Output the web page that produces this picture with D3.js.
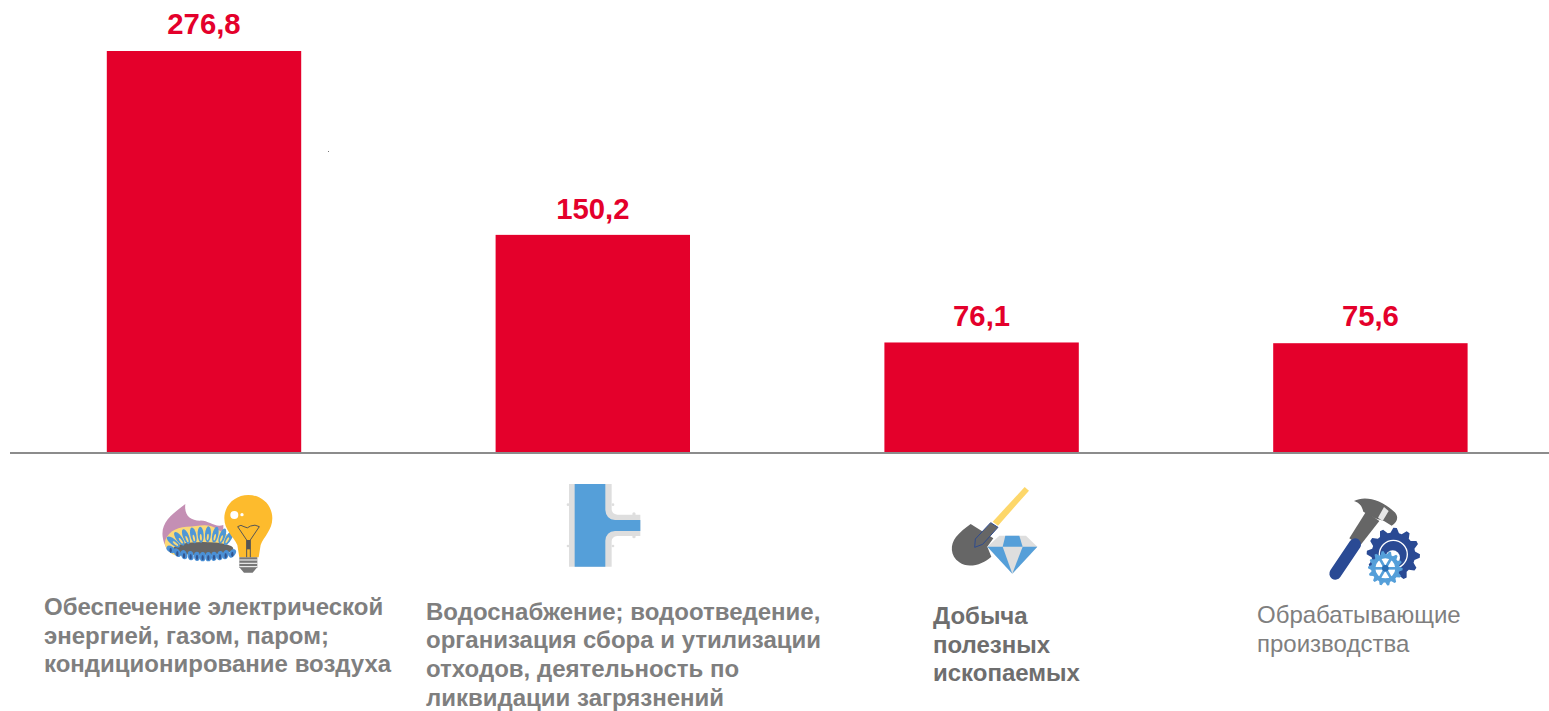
<!DOCTYPE html>
<html>
<head>
<meta charset="utf-8">
<script src="https://cdnjs.cloudflare.com/ajax/libs/d3/7.8.5/d3.min.js"></script>
<style>
  html, body { margin: 0; padding: 0; background: #fff; }
  svg { display: block; font-family: "Liberation Sans", Arial, sans-serif; }
</style>
</head>
<body>
<svg class="chart" width="1549" height="711"></svg>
<script>
var categories = ["energy", "water", "mining", "manufacturing"];
var values = [276.8, 150.2, 76.1, 75.6];
var valueLabels = ["276,8", "150,2", "76,1", "75,6"];
var labelLines = [
  ["Обеспечение электрической", "энергией, газом, паром;", "кондиционирование воздуха"],
  ["Водоснабжение; водоотведение,", "организация сбора и утилизации", "отходов, деятельность по", "ликвидации загрязнений"],
  ["Добыча", "полезных", "ископаемых"],
  ["Обрабатывающие", "производства"]
];

var RED = "#e4002b", GREY = "#7f7f7f";
var vis = d3.select(".chart");

var xScale = d3.scaleBand().domain(categories).range([9.6, 1564.8]).paddingInner(0.5).paddingOuter(0.25),
    yScale = d3.scaleLinear().domain([0, 276.8]).range([453, 51]);

vis.selectAll("rect.bar").data(values).enter().append("rect")
    .attr("class", "bar")
    .attr("x", function(d, i) { return xScale(categories[i]); })
    .attr("y", function(d) { return yScale(d); })
    .attr("width", xScale.bandwidth())
    .attr("height", function(d) { return yScale(0) - yScale(d); })
    .attr("fill", RED);

var labelGap = [17.5, 16, 16.5, 17.5];
vis.selectAll("text.value").data(values).enter().append("text")
    .attr("class", "value")
    .attr("x", function(d, i) { return xScale(categories[i]) + xScale.bandwidth() / 2; })
    .attr("y", function(d, i) { return yScale(d) - labelGap[i]; })
    .attr("text-anchor", "middle")
    .attr("font-size", 29.3)
    .attr("font-weight", "bold")
    .attr("fill", RED)
    .text(function(d, i) { return valueLabels[i]; });

// baseline
vis.append("line").attr("x1", 10).attr("x2", 1549).attr("y1", 453).attr("y2", 453)
    .attr("stroke", "#8c8c8c").attr("stroke-width", 2);

// stray speck from the original
vis.append("rect").attr("x", 328).attr("y", 151).attr("width", 1).attr("height", 1).attr("fill", "#777");

// category captions
var labelStyle = [
  {x: 44, y: 615, gap: 28.6, weight: "bold", fill: GREY},
  {x: 426, y: 619.5, gap: 28.8, weight: "bold", fill: GREY},
  {x: 933, y: 624, gap: 28.7, weight: "bold", fill: "#6e6e6e"},
  {x: 1257, y: 623, gap: 29, weight: "normal", fill: GREY}
];
labelLines.forEach(function(lines, i) {
  var s = labelStyle[i];
  vis.append("text").attr("font-size", 24).attr("font-weight", s.weight).attr("fill", s.fill)
    .selectAll("tspan").data(lines).enter().append("tspan")
    .attr("x", s.x)
    .attr("y", function(d, j) { return s.y + j * s.gap; })
    .text(function(d) { return d; });
});

// icons, drawn at 3x in the space of a crop and scaled down
function icon(x, y) {
  return vis.append("g").attr("transform", "translate(" + x + "," + y + ") scale(0.3333)");
}
function gear(g, cx, cy, r, teeth, fill) {
  var pts = [];
  for (var i = 0; i < teeth * 4; i++) {
    var a = i / (teeth * 4) * 2 * Math.PI;
    var rr = (i % 4 < 2) ? r : r * 0.82;
    pts.push([cx + rr * Math.cos(a), cy + rr * Math.sin(a)]);
  }
  g.append("polygon").attr("points", pts.join(" ")).attr("fill", fill);
}

// flame and bulb
var i1 = icon(140, 480);
i1.append("path").attr("d", "M136,72 C100,100 62,125 68,170 C72,200 85,215 110,225 L250,170 L250,135 C225,145 205,120 180,122 C150,122 132,105 136,72Z").attr("fill", "#c48fb4");
i1.append("path").attr("d", "M74,190 C78,160 105,142 140,140 C175,140 205,125 235,150 L275,170 L250,215 L110,228 C90,222 76,208 74,190Z").attr("fill", "#fbd977");
i1.append("ellipse").attr("cx", 190).attr("cy", 206).attr("rx", 90).attr("ry", 20).attr("fill", "#666");
[[100,186,-52],[118,176,-36],[138,170,-22],[160,166,-12],[182,164,-4],[204,163,4],[226,164,12],[247,168,20],[266,174,30]].forEach(function(f) {
  i1.append("ellipse").attr("cx", f[0]).attr("cy", f[1]).attr("rx", 9).attr("ry", 24)
    .attr("transform", "rotate(" + f[2] + " " + f[0] + " " + f[1] + ")").attr("fill", "#4f97d6");
  i1.append("ellipse").attr("cx", f[0]).attr("cy", f[1] + 8).attr("rx", 3).attr("ry", 10)
    .attr("transform", "rotate(" + f[2] + " " + f[0] + " " + f[1] + ")").attr("fill", "#fbd977");
});
[[92,208,-55],[112,218,-35],[132,224,-20],[152,227,-10],[171,229,-4],[188,230,0],[205,230,0],[222,229,5],[240,227,10],[257,224,20],[277,220,35]].forEach(function(f) {
  i1.append("ellipse").attr("cx", f[0]).attr("cy", f[1]).attr("rx", 9).attr("ry", 14)
    .attr("transform", "rotate(" + f[2] + " " + f[0] + " " + f[1] + ")").attr("fill", "#4a90d6");
  i1.append("ellipse").attr("cx", f[0]).attr("cy", f[1] + 3).attr("rx", 3.5).attr("ry", 8)
    .attr("fill", "#33558f");
});
i1.append("path").attr("d", "M325,45 C365,45 397,75 397,115 C397,150 372,170 362,195 L356,232 L298,232 L292,195 C280,170 253,150 253,115 C253,75 285,45 325,45Z").attr("fill", "#fdbb2d");
i1.append("circle").attr("cx", 283).attr("cy", 105).attr("r", 12).attr("fill", "#fff");
i1.append("circle").attr("cx", 306).attr("cy", 104).attr("r", 5).attr("fill", "#fff");
i1.append("path").attr("d", "M293,140 Q303,132 312,140 Q322,148 332,138 Q345,132 358,140 L331,180 L331,232 M293,140 L320,180 L320,232").attr("fill", "none").attr("stroke", "#555").attr("stroke-width", 3);
i1.append("rect").attr("x", 320).attr("y", 180).attr("width", 11).attr("height", 28).attr("fill", "#555");
i1.append("path").attr("d", "M298,232 L352,232 L352,262 L338,278 L312,278 L298,262Z").attr("fill", "#777");
[240, 250, 260].forEach(function(y) {
  i1.append("line").attr("x1", 298).attr("x2", 352).attr("y1", y).attr("y2", y).attr("stroke", "#fff").attr("stroke-width", 3);
});

// pipe tee
var i2 = icon(540, 470);
i2.append("path").attr("d", "M87,42 L215,42 L215,118 Q215,132 232,134 L301,134 L301,198 L232,198 Q215,200 215,214 L215,290 L87,290Z").attr("fill", "#dedede");
i2.append("path").attr("d", "M104,42 L196,42 L196,120 Q198,148 225,150 L301,150 L301,183 L225,183 Q198,185 196,212 L196,290 L104,290Z").attr("fill", "#559fd9");
[[80,104],[215,104],[80,228],[215,228]].forEach(function(p) {
  i2.append("rect").attr("x", p[0]).attr("y", p[1] - 4).attr("width", 8).attr("height", 8).attr("rx", 4).attr("fill", "#dedede");
});
[[282,132],[282,200]].forEach(function(p) {
  i2.append("rect").attr("x", p[0] - 5).attr("y", p[1] - 5).attr("width", 10).attr("height", 10).attr("rx", 5).attr("fill", "#dedede");
});

// shovel and diamond
var i3 = icon(930, 475);
i3.append("path").attr("d", "M284,36 L297,47 L204,152 L188,140Z").attr("fill", "#fdd76a");
i3.append("path").attr("d", "M122,147 L190,190 L172,215 L184,245 C160,268 115,282 88,262 C60,243 60,208 78,186 C90,171 106,158 122,147Z").attr("fill", "#666");
i3.append("path").attr("d", "M182,143 L204,157 L158,208 L134,217 L136,192Z").attr("fill", "#666").attr("stroke", "#2d4a8f").attr("stroke-width", 3);
i3.append("path").attr("d", "M172,215 L208,182 L288,182 L322,215 L247,296Z").attr("fill", "#dedede");
i3.append("path").attr("d", "M226,182 L268,182 L278,215 L218,215Z").attr("fill", "#559fd9");
i3.append("path").attr("d", "M172,215 L218,215 L247,296Z").attr("fill", "#559fd9");
i3.append("path").attr("d", "M278,215 L322,215 L247,296Z").attr("fill", "#559fd9");

// hammer and gears
var i4 = icon(1310, 485);
i4.append("path").attr("d", "M168,80 L208,108 L150,182 L118,160Z").attr("fill", "#666");
i4.append("path").attr("d", "M132,48 C165,30 215,45 250,78 C268,92 264,112 245,122 L222,108 L195,100 L160,80 C155,62 150,55 132,48Z").attr("fill", "#666");
i4.append("path").attr("d", "M222,66 L236,78 L218,108 L204,98Z").attr("fill", "#e6e6e6");
i4.append("line").attr("x1", 135).attr("y1", 178).attr("x2", 76).attr("y2", 266)
    .attr("stroke", "#2a4a94").attr("stroke-width", 36).attr("stroke-linecap", "round");
gear(i4, 250, 208, 80, 12, "#2a4a94");
i4.append("circle").attr("cx", 250).attr("cy", 208).attr("r", 42).attr("fill", "none").attr("stroke", "#fff").attr("stroke-width", 4);
i4.append("circle").attr("cx", 248).attr("cy", 218).attr("r", 22).attr("fill", "#fff");
gear(i4, 226, 250, 52, 14, "#559fd9");
i4.append("circle").attr("cx", 226).attr("cy", 250).attr("r", 32).attr("fill", "#fff");
[0, 60, 120].forEach(function(a) {
  i4.append("rect").attr("x", 192).attr("y", 246).attr("width", 68).attr("height", 8).attr("fill", "#559fd9")
    .attr("transform", "rotate(" + a + " 226 250)");
});
i4.append("circle").attr("cx", 226).attr("cy", 250).attr("r", 33).attr("fill", "none").attr("stroke", "#559fd9").attr("stroke-width", 6);
i4.append("circle").attr("cx", 226).attr("cy", 250).attr("r", 10).attr("fill", "#2a6fb5");
</script>
</body>
</html>
